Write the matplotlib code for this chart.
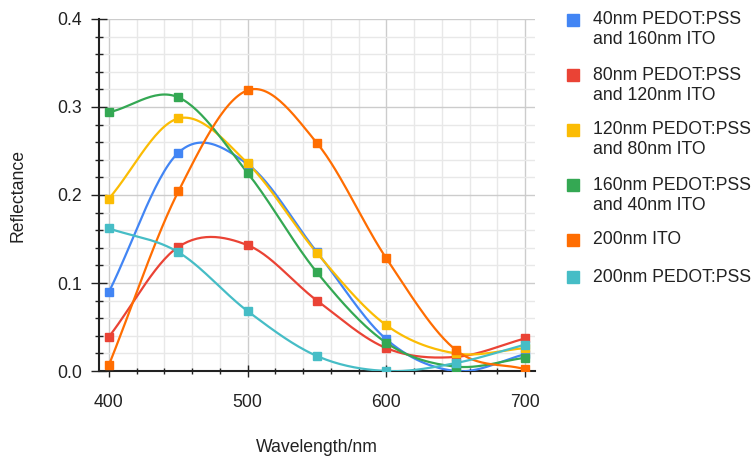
import numpy as np
import matplotlib
matplotlib.use('Agg')
import matplotlib.pyplot as plt
from matplotlib.ticker import MultipleLocator

plt.rcParams['font.family'] = ['Liberation Sans', 'DejaVu Sans']

# 数据
wavelength = [400, 450, 500, 550, 600, 650, 700]
labels = ['40nm PEDOT:PSS\nand 160nm ITO',
          '80nm PEDOT:PSS\nand 120nm ITO',
          '120nm PEDOT:PSS\nand 80nm ITO',
          '160nm PEDOT:PSS\nand 40nm ITO',
          '200nm ITO',
          '200nm PEDOT:PSS']
pedot40 = [0.090, 0.248, 0.235, 0.135, 0.036, 0.000, 0.019]
pedot80 = [0.039, 0.141, 0.143, 0.080, 0.026, 0.016, 0.037]
pedot120 = [0.196, 0.287, 0.236, 0.134, 0.052, 0.020, 0.026]
pedot160 = [0.294, 0.311, 0.225, 0.112, 0.032, 0.005, 0.015]
ito200 = [0.007, 0.204, 0.319, 0.259, 0.128, 0.024, 0.002]
pedot200 = [0.162, 0.135, 0.068, 0.017, 0.000, 0.009, 0.030]
series = [pedot40, pedot80, pedot120, pedot160, ito200, pedot200]
colors = ['#4285f4', '#ea4335', '#fbbc04', '#34a853', '#ff6d01', '#46bdc6']

W, H = 752, 457
FS = 12.7


def smooth(x, y, n=30):
    """Catmull-Rom 样条平滑曲线"""
    x = np.asarray(x, float)
    y = np.asarray(y, float)
    m = np.zeros_like(y)
    m[1:-1] = (y[2:] - y[:-2]) / 2
    m[0] = y[1] - y[0]
    m[-1] = y[-1] - y[-2]
    xs, ys = [], []
    for i in range(len(x) - 1):
        t = np.linspace(0, 1, n, endpoint=(i == len(x) - 2))
        h00 = 2 * t**3 - 3 * t**2 + 1
        h10 = t**3 - 2 * t**2 + t
        h01 = -2 * t**3 + 3 * t**2
        h11 = t**3 - t**2
        ys.append(h00 * y[i] + h10 * m[i] + h01 * y[i + 1] + h11 * m[i + 1])
        xs.append(x[i] + t * (x[i + 1] - x[i]))
    return np.concatenate(xs), np.concatenate(ys)


fig = plt.figure(figsize=(W / 100, H / 100), dpi=100)
ax = fig.add_axes([99 / W, 1 - 371 / H, (535 - 99) / W, (371 - 19) / H])

for ys, c in zip(series, colors):
    sx, sy = smooth(wavelength, ys)
    ax.plot(sx, sy, color=c, lw=1.6, zorder=3)
    ax.plot(wavelength, ys, ls='none', marker='s', ms=6, color=c, zorder=4)

ax.set_xlim(392.8, 707.2)
ax.set_ylim(0, 0.4)
ax.xaxis.set_major_locator(MultipleLocator(100))
ax.xaxis.set_minor_locator(MultipleLocator(20))
ax.yaxis.set_major_locator(MultipleLocator(0.1))
ax.yaxis.set_minor_locator(MultipleLocator(0.02))
ax.yaxis.set_major_formatter(matplotlib.ticker.FormatStrFormatter('%.1f'))

ax.grid(which='major', color='#cccccc', lw=1.0, zorder=0)
ax.grid(which='minor', color='#e8e8e8', lw=1.0, zorder=0)
ax.set_axisbelow(True)

for s in ['top', 'right']:
    ax.spines[s].set_visible(False)
for s in ['left', 'bottom']:
    ax.spines[s].set_color('#222222')
    ax.spines[s].set_linewidth(1.5)

ax.tick_params(axis='x', which='major', direction='inout', length=9, width=1, labelsize=FS, pad=12, colors='#222222')
ax.tick_params(axis='x', which='minor', direction='inout', length=5, width=1, colors='#222222')
ax.tick_params(axis='y', which='major', direction='inout', length=12, width=1, labelsize=FS, pad=6, colors='#222222')
ax.tick_params(axis='y', which='minor', direction='inout', length=6, width=1, colors='#222222')

fig.text(18 / W, 1 - 195 / H, 'Reflectance', rotation=90, ha='center', va='center', fontsize=FS, color='#222222')
fig.text(317 / W, 1 - 447 / H, 'Wavelength/nm', ha='center', va='center', fontsize=FS, color='#222222')

# 手动图例
legend_y = [20, 75, 130, 185, 240, 277]
for lab, c, y0 in zip(labels, colors, legend_y):
    fig.lines.append(plt.Line2D([573 / W], [1 - y0 / H], marker='s', ms=8, color=c, ls='none',
                                transform=fig.transFigure))
    for k, line in enumerate(lab.split('\n')):
        fig.text(593 / W, 1 - (y0 + 20 * k) / H, line, ha='left', va='center', fontsize=FS, color='#222222')

fig.savefig('out.png', dpi=100)
